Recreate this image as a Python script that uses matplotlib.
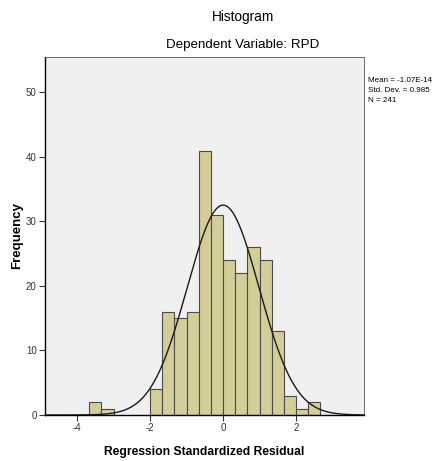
import numpy as np
import matplotlib.pyplot as plt

plt.rcParams['font.family'] = ['Liberation Sans', 'DejaVu Sans']
plt.rcParams['axes.unicode_minus'] = False

# histogram bins (width 1/3) and counts
bin_left = [-11, -10, -6, -5, -4, -3, -2, -1, 0, 1, 2, 3, 4, 5, 6, 7]  # in thirds
counts = [2, 1, 4, 16, 15, 16, 41, 31, 24, 22, 26, 24, 13, 3, 1, 2]
bin_width = 1 / 3

mean = -1.07e-14
std = 0.985
n = 241

x_ticks = [-4, -2, 0, 2]
y_ticks = [0, 10, 20, 30, 40, 50]

fig = plt.figure(figsize=(4.36, 4.61), dpi=100)
ax = fig.add_axes([0.1032, 0.0998, 0.7317, 0.7766])
ax.set_facecolor('#F0F0F0')

lefts = np.array(bin_left) * bin_width
ax.bar(lefts, counts, width=bin_width, align='edge', color='#D3CE97',
       edgecolor='#4A4A4A', linewidth=0.8, zorder=2)

xs = np.linspace(-4.88, 3.86, 400)
curve = n * bin_width * np.exp(-0.5 * ((xs - mean) / std) ** 2) / (std * np.sqrt(2 * np.pi))
ax.plot(xs, curve, color='#1A1A1A', linewidth=1.0, zorder=3)

ax.set_xlim(-4.88, 3.86)
ax.set_ylim(0, 55.5)
ax.set_xticks(x_ticks)
ax.set_yticks(y_ticks)
ax.tick_params(labelsize=7, length=4, width=0.8, colors='#333333', pad=2)

for s in ['left', 'bottom']:
    ax.spines[s].set_color('black')
    ax.spines[s].set_linewidth(1.0)
for s in ['top', 'right']:
    ax.spines[s].set_color('#555555')
    ax.spines[s].set_linewidth(0.6)

ax.set_xlabel('Regression Standardized Residual', fontsize=8.7, fontweight='bold', labelpad=9)
ax.set_ylabel('Frequency', fontsize=9.5, fontweight='bold')
ax.yaxis.set_label_coords(-0.068, 0.5)

fig.text(0.557, 0.963, 'Histogram', ha='center', va='center', fontsize=9.8)
fig.text(0.557, 0.902, 'Dependent Variable: RPD', ha='center', va='center', fontsize=9.6)

fig.text(0.845, 0.832, 'Mean = -1.07E-14\nStd. Dev. = 0.985\nN = 241',
         ha='left', va='top', fontsize=5.8, linespacing=1.55)

fig.savefig('out.png', dpi=100)
